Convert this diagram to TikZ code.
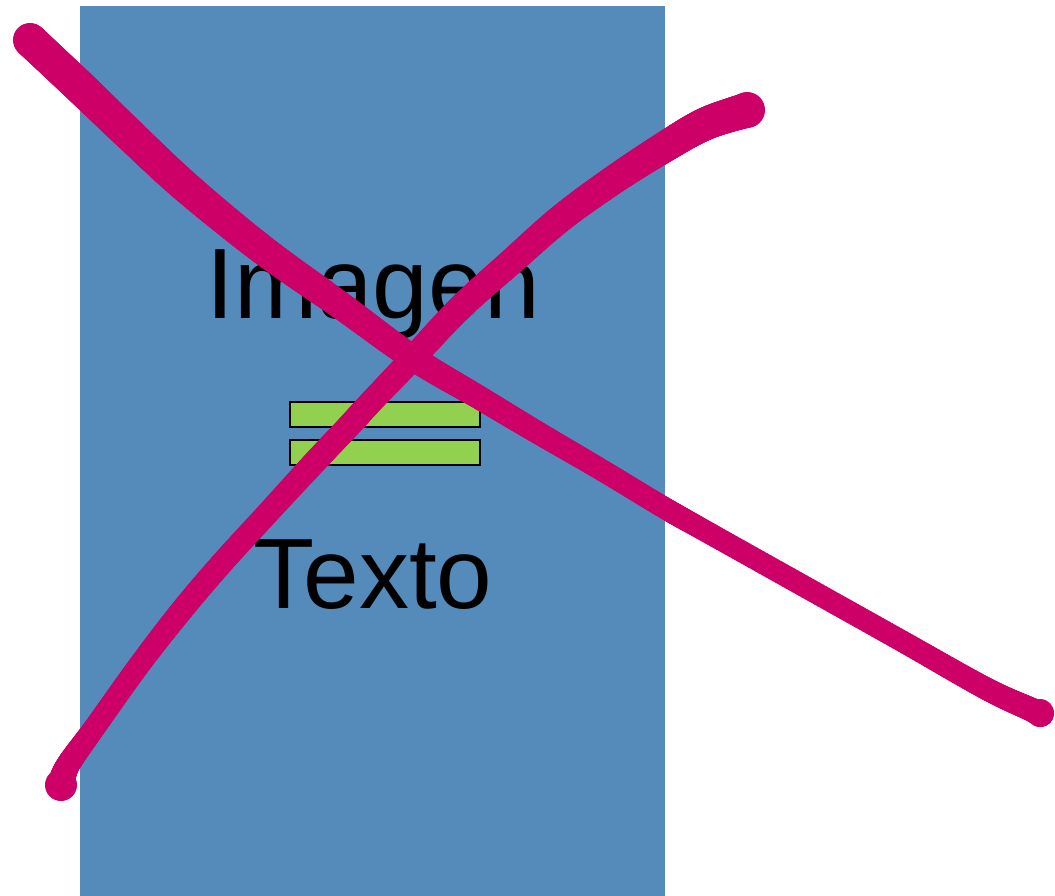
\documentclass[tikz,border=0pt]{standalone}
\usepackage{fontspec}
\setmainfont{Liberation Sans}
\definecolor{panelblue}{RGB}{84,139,186}
\definecolor{bargreen}{RGB}{146,208,80}
\definecolor{inkmagenta}{RGB}{204,0,102}
% A brush stroke: discs laid densely along a Catmull-Rom spline through the
% points #1/#2 (first and last repeated), with diameters interpolated from #3;
% #4 is the number of spans.
\newcommand\inkstroke[4]{%
  \foreach \i in {1,...,#4}{%
    \pgfmathtruncatemacro\ia{\i-1}%
    \pgfmathtruncatemacro\ib{\i+1}%
    \pgfmathtruncatemacro\ic{\i+2}%
    \pgfmathsetmacro\xa{#1[\ia]}\pgfmathsetmacro\xb{#1[\i]}%
    \pgfmathsetmacro\xc{#1[\ib]}\pgfmathsetmacro\xd{#1[\ic]}%
    \pgfmathsetmacro\ya{#2[\ia]}\pgfmathsetmacro\yb{#2[\i]}%
    \pgfmathsetmacro\yc{#2[\ib]}\pgfmathsetmacro\yd{#2[\ic]}%
    \pgfmathsetmacro\wb{#3[\i]}\pgfmathsetmacro\wc{#3[\ib]}%
    \foreach \s in {0,...,31}{%
      \pgfmathsetmacro\t{\s/32}%
      \pgfmathsetmacro\px{0.5*(2*\xb+(\xc-\xa)*\t+(2*\xa-5*\xb+4*\xc-\xd)*\t*\t+(-\xa+3*\xb-3*\xc+\xd)*\t*\t*\t)}%
      \pgfmathsetmacro\py{0.5*(2*\yb+(\yc-\ya)*\t+(2*\ya-5*\yb+4*\yc-\yd)*\t*\t+(-\ya+3*\yb-3*\yc+\yd)*\t*\t*\t)}%
      \pgfmathsetmacro\pr{(\wb+(\wc-\wb)*\t)/2}%
      \fill[inkmagenta] (\px,\py) circle[radius=\pr pt];
    }%
  }%
}
% first stroke: top left to bottom right, thinning out
\def\strokeAx{{30,30,80,130,187,263,340,413,480,535,600,663,700,800,900,985,1030,1041,1041}}
\def\strokeAy{{40,40,87,135,188,250,305,358,398,431,469,507,528,584,640,688,709,714,714}}
\def\strokeAw{{34,34,34,33,32,30,28,26,24,23,22,22,22,22,22,23,24,26,26}}
% second stroke: bottom left to top right, widening
\def\strokeBx{{61,61,68,95,140,182,222,266,312,347,371,411,460,510,560,612,663,705,747,747}}
\def\strokeBy{{785,785,765,727,664,610,563,515,465,428,402,360,308,263,219,181,148,124,110,110}}
\def\strokeBw{{28,28,24,22,22,23,23,23,24,24,24,25,26,27,28,29,31,33,35,35}}
\begin{document}
\begin{tikzpicture}[x=1pt,y=-1pt,
  bar/.style={draw=black,line width=1.5pt,fill=bargreen,minimum width=190pt,minimum height=25pt,inner sep=0pt},
  label/.style={inner sep=0pt,anchor=base,font=\fontsize{100}{100}\selectfont}]
\useasboundingbox (0,0) rectangle (1055,896);
% background panel
\fill[panelblue] (80,6) rectangle (665,896);
% equals sign
\node[bar] (bartop) at (385,414.5) {};
\node[bar] (barbot) at (385,452.5) {};
% captions
\node[label] (imagen) at (373,318) {Imagen};
\node[label] (texto) at (373,608) {Texto};
% the two crossing strokes with their rounded ends
\inkstroke{\strokeAx}{\strokeAy}{\strokeAw}{16}
\fill[inkmagenta] (30,40) circle[radius=16.5pt];
\fill[inkmagenta] (1040,713) circle[radius=14pt];
\inkstroke{\strokeBx}{\strokeBy}{\strokeBw}{17}
\fill[inkmagenta] (61,785) circle[radius=16pt];
\fill[inkmagenta] (747,110) circle[radius=18pt];
\end{tikzpicture}
\end{document}
